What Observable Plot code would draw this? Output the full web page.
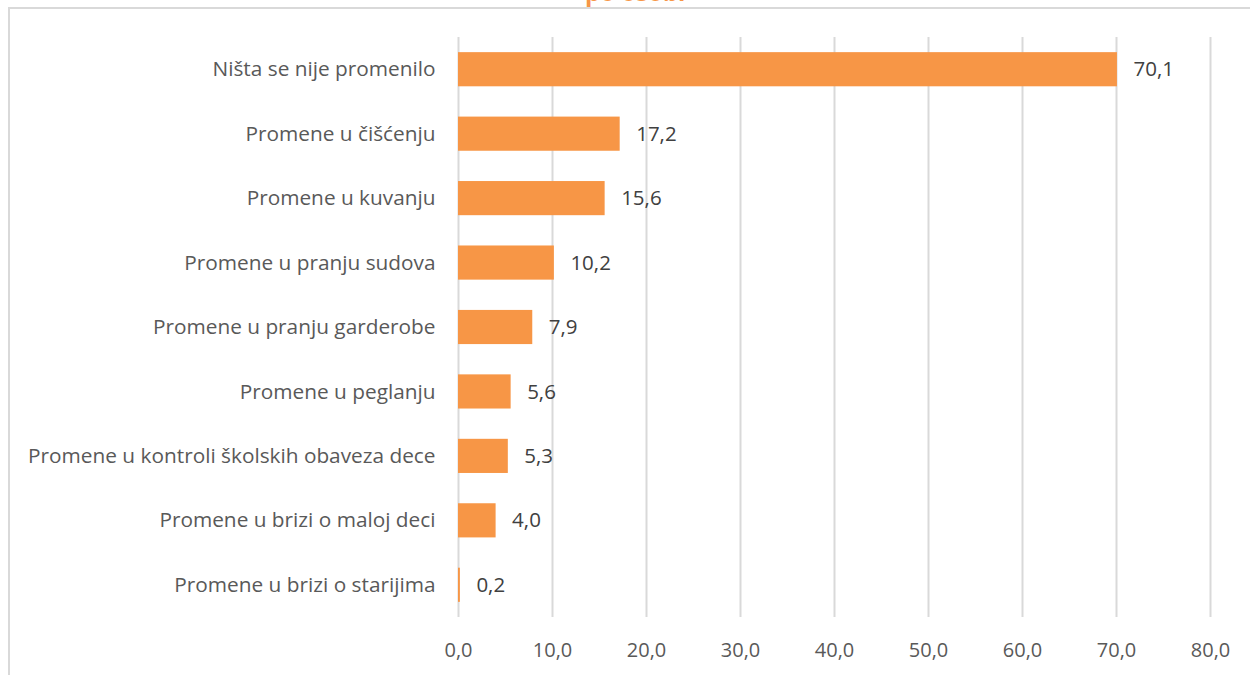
<!DOCTYPE html>
<html>
<head>
<meta charset="utf-8">
<script src="https://cdn.jsdelivr.net/npm/d3@7"></script>
<script src="https://cdn.jsdelivr.net/npm/@observablehq/plot@0.6"></script>
<style>
  html, body { margin: 0; padding: 0; background: #fff; overflow: hidden; }
  #wrap { position: relative; width: 1250px; height: 675px; overflow: hidden; }
  #frame { position: absolute; left: 8px; top: 7px; width: 1400px; height: 800px;
           border-top: 2px solid #d9d9d9; border-left: 2px solid #d9d9d9; box-sizing: border-box; }
  #title { position: absolute; left: 585px; top: -20px; white-space: nowrap;
           font: bold 24px "Open Sans", sans-serif; color: #F79646; line-height: 24px; }
  #chart { position: absolute; left: 0; top: 0; }
</style>
</head>
<body>
<div id="wrap">
  <div id="frame"></div>
  <div id="title">po osobi</div>
  <div id="chart"></div>
</div>
<script>
const categories = [
  "Ništa se nije promenilo",
  "Promene u čišćenju",
  "Promene u kuvanju",
  "Promene u pranju sudova",
  "Promene u pranju garderobe",
  "Promene u peglanju",
  "Promene u kontroli školskih obaveza dece",
  "Promene u brizi o maloj deci",
  "Promene u brizi o starijima"
];
const values = [70.1, 17.2, 15.6, 10.2, 7.9, 5.6, 5.3, 4.0, 0.2];
const xTicks = [0, 10, 20, 30, 40, 50, 60, 70, 80];

const data = categories.map((c, i) => ({category: c, value: values[i]}));
const fmt = v => v.toFixed(1).replace(".", ",");

const chart = Plot.plot({
  width: 1250,
  height: 675,
  marginLeft: 458,
  marginRight: 40,
  marginTop: 37,
  marginBottom: 58,
  style: {fontFamily: "'Open Sans', sans-serif", fontSize: "20px", color: "#595959", background: "transparent"},
  x: {domain: [0, 80], ticks: xTicks, tickFormat: fmt, label: null, tickSize: 0, tickPadding: 25},
  y: {domain: categories, label: null, tickSize: 0, tickPadding: 23, paddingInner: 0.47, paddingOuter: 0.235, round: false},
  marks: [
    Plot.ruleX(xTicks, {stroke: "#d9d9d9", strokeWidth: 2}),
    Plot.barX(data, {x: "value", y: "category", fill: "#F79646"}),
    Plot.text(data, {x: "value", y: "category", text: d => fmt(d.value), textAnchor: "start", dx: 16, fill: "#404040", fontSize: 20.5}),
    Plot.axisY({tickSize: 0, tickPadding: 23, fontSize: 20.8, label: null})
  ]
});
document.getElementById("chart").appendChild(chart);
</script>
</body>
</html>
